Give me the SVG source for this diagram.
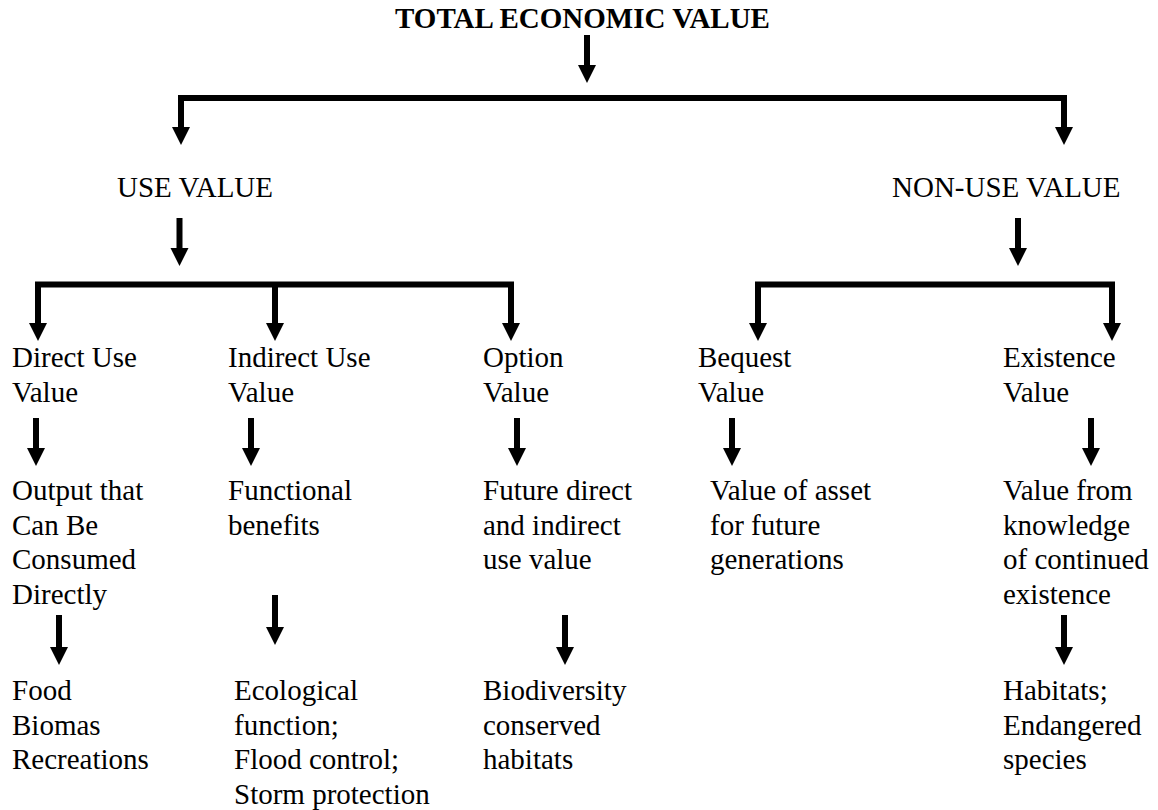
<svg xmlns="http://www.w3.org/2000/svg" width="1158" height="810" viewBox="0 0 1158 810">
  <style>
    .t { font-size: 29px; fill: #000; }
    .title { font-weight: bold; }
    .ln { fill: none; stroke: #000; stroke-width: 6; stroke-linecap: butt; stroke-linejoin: miter; }
    .hd { fill: #000; }
  </style>
  <defs>
    <!-- solid arrowhead, tip at (0,18) -->
    <path id="head" class="hd" d="M-9,0 L9,0 L0,18 Z"/>
  </defs>
  <rect width="1158" height="810" fill="#fff"/>

  <g id="connectors">
    <!-- title to main split -->
    <line class="ln" x1="587" y1="35" x2="587" y2="66"/>
    <use href="#head" x="587" y="65"/>
    <!-- main split -->
    <path class="ln" d="M181,128 V98 H1064 V128"/>
    <use href="#head" x="181" y="127"/>
    <use href="#head" x="1064" y="127"/>

    <!-- use value to its three branches -->
    <line class="ln" x1="179.5" y1="218" x2="179.5" y2="249"/>
    <use href="#head" x="179.5" y="248"/>
    <path class="ln" d="M38,324 V284.5 H511 V324"/>
    <line class="ln" x1="275" y1="284.5" x2="275" y2="324"/>
    <use href="#head" x="38" y="323"/>
    <use href="#head" x="275" y="323"/>
    <use href="#head" x="511" y="323"/>

    <!-- non-use value to its two branches -->
    <line class="ln" x1="1018" y1="218" x2="1018" y2="249"/>
    <use href="#head" x="1018" y="248"/>
    <path class="ln" d="M758,324 V284.5 H1112 V324"/>
    <use href="#head" x="758" y="323"/>
    <use href="#head" x="1112" y="323"/>

    <!-- value labels to descriptions -->
    <line class="ln" x1="36" y1="418" x2="36" y2="449"/>
    <use href="#head" x="36" y="448"/>
    <line class="ln" x1="251" y1="418" x2="251" y2="449"/>
    <use href="#head" x="251" y="448"/>
    <line class="ln" x1="517" y1="418" x2="517" y2="449"/>
    <use href="#head" x="517" y="448"/>
    <line class="ln" x1="732" y1="418" x2="732" y2="449"/>
    <use href="#head" x="732" y="448"/>
    <line class="ln" x1="1091" y1="418" x2="1091" y2="449"/>
    <use href="#head" x="1091" y="448"/>

    <!-- descriptions to examples -->
    <line class="ln" x1="59" y1="615" x2="59" y2="648"/>
    <use href="#head" x="59" y="647"/>
    <line class="ln" x1="275" y1="595" x2="275" y2="628"/>
    <use href="#head" x="275" y="627"/>
    <line class="ln" x1="565" y1="615" x2="565" y2="648"/>
    <use href="#head" x="565" y="647"/>
    <line class="ln" x1="1064" y1="615" x2="1064" y2="648"/>
    <use href="#head" x="1064" y="647"/>
  </g>

  <g id="total">
    <text class="t title" font-family="Liberation Serif" x="395" y="28">TOTAL ECONOMIC VALUE</text>
  </g>

  <g id="use-value">
    <text class="t" font-family="Liberation Serif" x="117" y="197">USE VALUE</text>
  </g>
  <g id="non-use-value">
    <text class="t" font-family="Liberation Serif" x="892" y="197">NON-USE VALUE</text>
  </g>

  <g id="direct-use">
    <text class="t" font-family="Liberation Serif" x="12" y="367"><tspan x="12">Direct Use</tspan><tspan x="12" dy="34.5">Value</tspan></text>
    <text class="t" font-family="Liberation Serif" x="12" y="500"><tspan x="12">Output that</tspan><tspan x="12" dy="34.5">Can Be</tspan><tspan x="12" dy="34.5">Consumed</tspan><tspan x="12" dy="34.5">Directly</tspan></text>
    <text class="t" font-family="Liberation Serif" x="12" y="700"><tspan x="12">Food</tspan><tspan x="12" dy="34.5">Biomas</tspan><tspan x="12" dy="34.5">Recreations</tspan></text>
  </g>

  <g id="indirect-use">
    <text class="t" font-family="Liberation Serif" x="228" y="367"><tspan x="228">Indirect Use</tspan><tspan x="228" dy="34.5">Value</tspan></text>
    <text class="t" font-family="Liberation Serif" x="228" y="500"><tspan x="228">Functional</tspan><tspan x="228" dy="34.5">benefits</tspan></text>
    <text class="t" font-family="Liberation Serif" x="234" y="700"><tspan x="234">Ecological</tspan><tspan x="234" dy="34.5">function;</tspan><tspan x="234" dy="34.5">Flood control;</tspan><tspan x="234" dy="34.5">Storm protection</tspan></text>
  </g>

  <g id="option">
    <text class="t" font-family="Liberation Serif" x="483" y="367"><tspan x="483">Option</tspan><tspan x="483" dy="34.5">Value</tspan></text>
    <text class="t" font-family="Liberation Serif" x="483" y="500"><tspan x="483">Future direct</tspan><tspan x="483" dy="34.5">and indirect</tspan><tspan x="483" dy="34.5">use value</tspan></text>
    <text class="t" font-family="Liberation Serif" x="483" y="700"><tspan x="483">Biodiversity</tspan><tspan x="483" dy="34.5">conserved</tspan><tspan x="483" dy="34.5">habitats</tspan></text>
  </g>

  <g id="bequest">
    <text class="t" font-family="Liberation Serif" x="698" y="367"><tspan x="698">Bequest</tspan><tspan x="698" dy="34.5">Value</tspan></text>
    <text class="t" font-family="Liberation Serif" x="710" y="500"><tspan x="710">Value of asset</tspan><tspan x="710" dy="34.5">for future</tspan><tspan x="710" dy="34.5">generations</tspan></text>
  </g>

  <g id="existence">
    <text class="t" font-family="Liberation Serif" x="1003" y="367"><tspan x="1003">Existence</tspan><tspan x="1003" dy="34.5">Value</tspan></text>
    <text class="t" font-family="Liberation Serif" x="1003" y="500"><tspan x="1003">Value from</tspan><tspan x="1003" dy="34.5">knowledge</tspan><tspan x="1003" dy="34.5">of continued</tspan><tspan x="1003" dy="34.5">existence</tspan></text>
    <text class="t" font-family="Liberation Serif" x="1003" y="700"><tspan x="1003">Habitats;</tspan><tspan x="1003" dy="34.5">Endangered</tspan><tspan x="1003" dy="34.5">species</tspan></text>
  </g>
</svg>
